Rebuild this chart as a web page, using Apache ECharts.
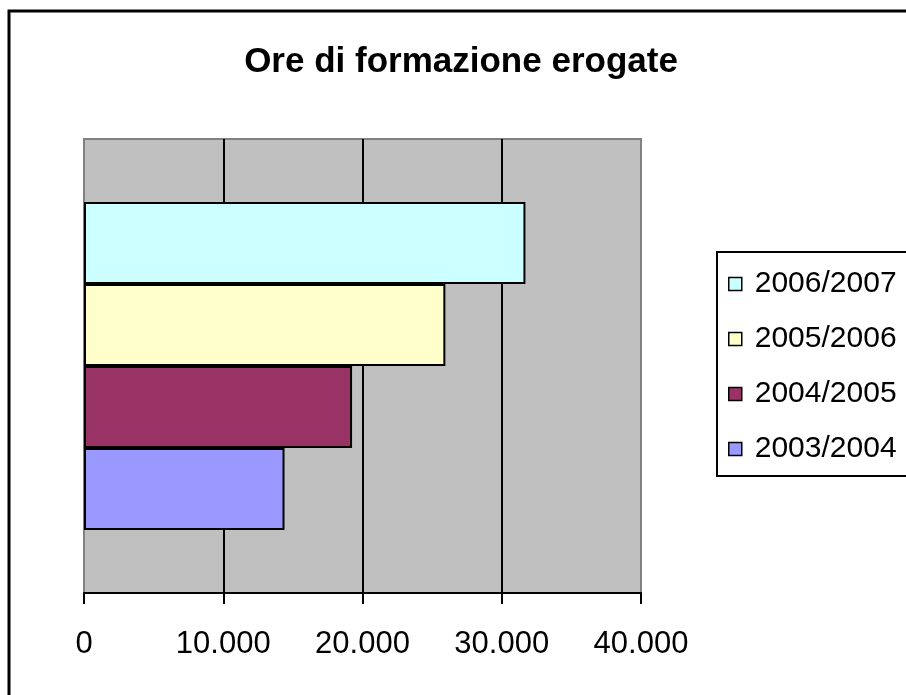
<!DOCTYPE html>
<html>
<head>
<meta charset="utf-8">
<script src="https://cdn.jsdelivr.net/npm/echarts@6/dist/echarts.min.js"></script>
<style>
  html, body { margin: 0; padding: 0; background: #fff; }
  #chart { width: 906px; height: 695px; }
</style>
</head>
<body>
<div id="chart"></div>
<script>
// dati del grafico
const titolo = 'Ore di formazione erogate'
const anni = ['2006/2007', '2005/2006', '2004/2005', '2003/2004']
const ore = [31700, 25950, 19250, 14400]
const colori = ['#CCFFFF', '#FFFFCC', '#993366', '#9999FF']
const categorie = ['']

// separatore delle migliaia all'italiana
const fmt = (v) => String(v).replace(/\B(?=(\d{3})+(?!\d))/g, '.')

const chart = echarts.init(document.getElementById('chart'))

// una serie per anno, tutte nella stessa categoria (la prima sta in alto)
const series = anni.map((anno, i) => ({
  name: anno,
  type: 'bar',
  data: [ore[i]],
  barWidth: 82,
  barGap: '0%',
  itemStyle: { color: colori[i], borderColor: '#000', borderWidth: 2 }
}))

chart.setOption({
  animation: false,
  textStyle: { fontFamily: 'Liberation Sans, Arial, sans-serif', color: '#000' },
  graphic: [
    { // cornice esterna
      type: 'rect', z: 100, silent: true,
      shape: { x: 9, y: 11, width: 1000, height: 1000 },
      style: { fill: null, stroke: '#000', lineWidth: 3 }
    },
    {
      type: 'text', z: 100,
      style: {
        x: 461, y: 62, text: titolo,
        textAlign: 'center', textVerticalAlign: 'middle',
        font: 'bold 35px "Liberation Sans", Arial, sans-serif', fill: '#000'
      }
    }
  ],
  grid: {
    left: 84, right: 265, top: 139, bottom: 102,
    show: true, backgroundColor: '#C0C0C0', borderColor: '#808080', borderWidth: 2
  },
  legend: {
    orient: 'vertical',
    left: 717, top: 252,
    data: anni,
    icon: 'rect',
    itemWidth: 13, itemHeight: 13,
    itemGap: 25,
    padding: [17, 40, 12, 11],
    borderColor: '#000', borderWidth: 2,
    backgroundColor: '#fff',
    itemStyle: { borderColor: '#000', borderWidth: 1.5 },
    textStyle: { fontSize: 30, lineHeight: 30, color: '#000', padding: [0, 0, 0, 8] }
  },
  xAxis: {
    type: 'value',
    min: 0, max: 40000, interval: 10000,
    axisLine: { show: true, lineStyle: { color: '#000', width: 2 } },
    axisTick: { show: true, length: 11, lineStyle: { color: '#000', width: 2 } },
    axisLabel: { fontSize: 31, color: '#000', margin: 36, formatter: fmt },
    splitLine: { show: true, showMinLine: false, showMaxLine: false, lineStyle: { color: '#000', width: 2 } }
  },
  yAxis: {
    type: 'category',
    data: categorie,
    axisLine: { show: false },
    axisTick: { show: false },
    axisLabel: { show: false }
  },
  series: series
})
</script>
</body>
</html>
